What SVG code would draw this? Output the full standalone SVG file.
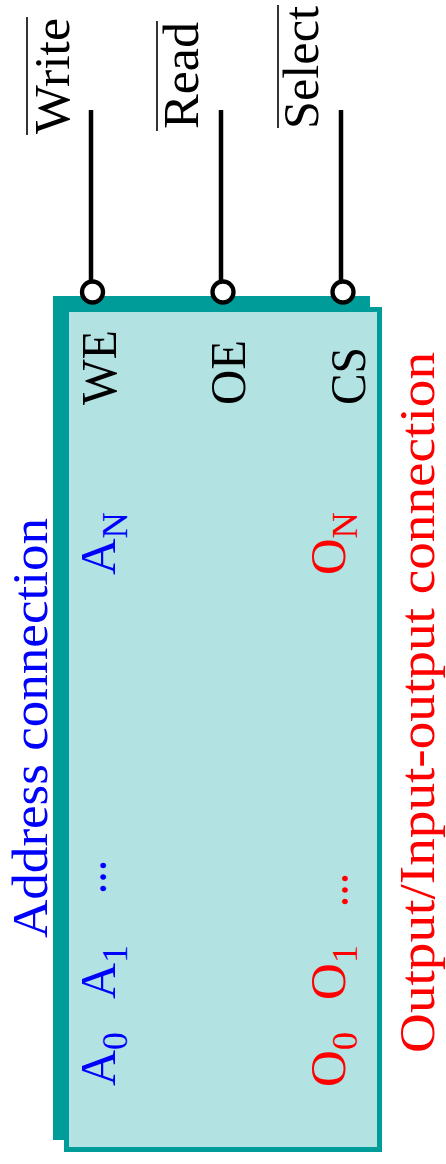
<svg xmlns="http://www.w3.org/2000/svg" width="446" height="1164" viewBox="0 0 446 1164">
<style>
  text { font-family: "Liberation Serif", "Times New Roman", serif; font-size: 50px; }
  .blk { fill: #000000; }
  .blue { fill: #0000FF; }
  .red { fill: #FF0000; }
  .sub { font-size: 36px; }
  .dots { font-size: 36px; font-weight: bold; }
  .wire { stroke: #000000; stroke-width: 4.5; fill: none; }
  .bubble { stroke: #000000; stroke-width: 4.3; fill: #FFFFFF; }
  .bar { stroke: #000000; stroke-width: 1.6; }
</style>
<rect width="446" height="1164" fill="#FFFFFF"/>

<g id="chip">
  <rect x="53" y="296" width="317" height="844" fill="#009C99"/>
  <rect x="66.5" y="309.5" width="313" height="840" fill="#B2E2E2" stroke="#009C99" stroke-width="5"/>
  <text class="blk" transform="translate(116,405) rotate(-90)" textLength="75" lengthAdjust="spacingAndGlyphs">WE</text>
  <text class="blk" transform="translate(245,405) rotate(-90)" textLength="65" lengthAdjust="spacingAndGlyphs">OE</text>
  <text class="blk" transform="translate(365,405) rotate(-90)" textLength="58" lengthAdjust="spacingAndGlyphs">CS</text>
  <text class="blue" transform="translate(115,575) rotate(-90)" textLength="63" lengthAdjust="spacingAndGlyphs">A<tspan class="sub" dy="12">N</tspan></text>
  <text class="blue" transform="translate(115,1086) rotate(-90)" textLength="54" lengthAdjust="spacingAndGlyphs">A<tspan class="sub" dy="12">0</tspan></text>
  <text class="blue" transform="translate(115,999) rotate(-90)" textLength="54" lengthAdjust="spacingAndGlyphs">A<tspan class="sub" dy="12">1</tspan></text>
  <text class="blue dots" transform="translate(106,894) rotate(-90)" textLength="34" lengthAdjust="spacingAndGlyphs">…</text>
  <text class="red" transform="translate(345,575) rotate(-90)" textLength="63" lengthAdjust="spacingAndGlyphs">O<tspan class="sub" dy="12">N</tspan></text>
  <text class="red" transform="translate(345,1087) rotate(-90)" textLength="55" lengthAdjust="spacingAndGlyphs">O<tspan class="sub" dy="12">0</tspan></text>
  <text class="red" transform="translate(345,1000) rotate(-90)" textLength="55" lengthAdjust="spacingAndGlyphs">O<tspan class="sub" dy="12">1</tspan></text>
  <text class="red dots" transform="translate(348,907) rotate(-90)" textLength="34" lengthAdjust="spacingAndGlyphs">…</text>
</g>

<g id="connectors">
  <line class="wire" x1="91" y1="110" x2="91" y2="282"/>
  <line class="wire" x1="221" y1="110" x2="221" y2="282"/>
  <line class="wire" x1="341" y1="110" x2="341" y2="282"/>
</g>

<g id="pin-write">
  <circle class="bubble" cx="92.5" cy="292" r="10.5"/>
  <text class="blk" transform="translate(69,134) rotate(-90)" textLength="116" lengthAdjust="spacingAndGlyphs">Write</text>
  <line class="bar" x1="27" y1="17" x2="27" y2="135"/>
</g>
<g id="pin-read">
  <circle class="bubble" cx="223" cy="292" r="10.5"/>
  <text class="blk" transform="translate(198,129) rotate(-90)" textLength="107" lengthAdjust="spacingAndGlyphs">Read</text>
  <line class="bar" x1="157" y1="21" x2="157" y2="131"/>
</g>
<g id="pin-select">
  <circle class="bubble" cx="343" cy="292" r="10.5"/>
  <text class="blk" transform="translate(318,129) rotate(-90)" textLength="123" lengthAdjust="spacingAndGlyphs">Select</text>
  <line class="bar" x1="278" y1="5" x2="278" y2="128"/>
</g>

<g id="label-address">
  <text class="blue" transform="translate(47,938) rotate(-90)" textLength="420" lengthAdjust="spacingAndGlyphs">Address connection</text>
</g>
<g id="label-output">
  <text class="red" transform="translate(434,1053) rotate(-90)" textLength="701" lengthAdjust="spacingAndGlyphs">Output/Input-output connection</text>
</g>
</svg>
